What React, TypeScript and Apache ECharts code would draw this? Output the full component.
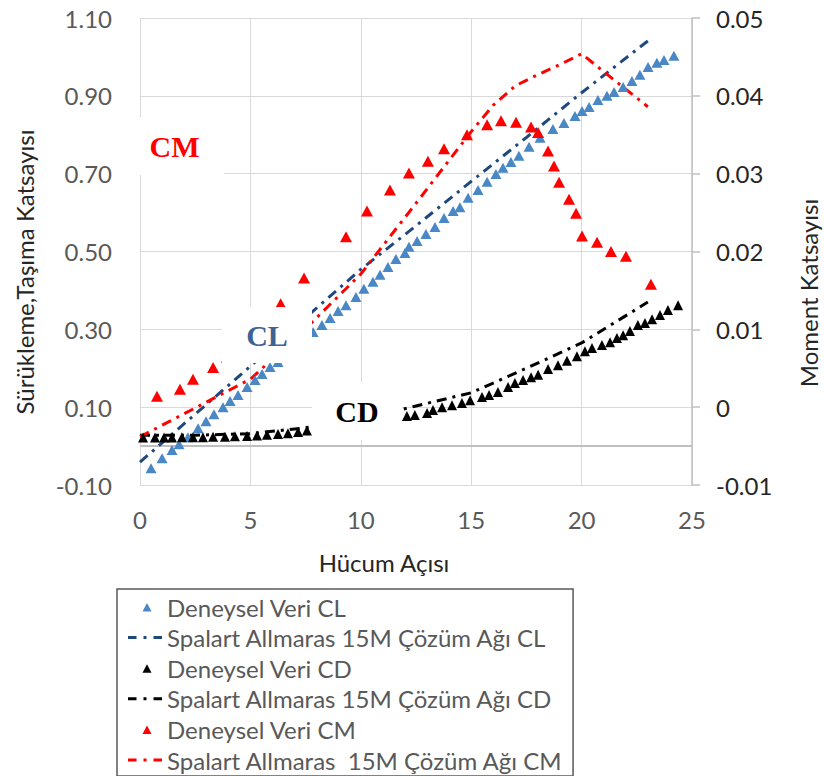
import React, { useEffect, useRef } from 'react';
import * as echarts from 'echarts';

const FONT = 'Lato';

// Hücum açısı (deg) vs katsayı
const clExp: [number, number][] = [
  [0.5, -0.057], [1.0, -0.031], [1.45, -0.01], [1.77, 0.005], [2.17, 0.023], [2.63, 0.046],
  [2.99, 0.064], [3.35, 0.082], [3.76, 0.1], [4.08, 0.116], [4.44, 0.131], [4.85, 0.152],
  [5.21, 0.17], [5.53, 0.185], [5.89, 0.203], [6.25, 0.216],
  [7.84, 0.293], [8.24, 0.311], [8.61, 0.329], [8.97, 0.347], [9.33, 0.362], [9.78, 0.383],
  [10.14, 0.404], [10.55, 0.422], [10.87, 0.44], [11.23, 0.46], [11.59, 0.481], [12.0, 0.496],
  [12.18, 0.512], [12.55, 0.527], [12.95, 0.545], [13.36, 0.563], [13.77, 0.586], [14.18, 0.604],
  [14.49, 0.614], [14.86, 0.638], [15.31, 0.658], [15.72, 0.679], [16.12, 0.699], [16.44, 0.715],
  [16.8, 0.73], [17.16, 0.746], [17.62, 0.769], [18.12, 0.792], [18.7, 0.815], [19.2, 0.83],
  [19.7, 0.848], [20.02, 0.861], [20.34, 0.871], [20.74, 0.889], [21.15, 0.9], [21.47, 0.91],
  [21.88, 0.923], [22.28, 0.938], [22.64, 0.954], [23.01, 0.974], [23.41, 0.985], [23.73, 0.992],
  [24.18, 1.003],
];

const clLine: [number, number][] = [
  [0, -0.041], [2.5, 0.082], [5, 0.205], [7.5, 0.33], [10, 0.454], [12.5, 0.566],
  [15, 0.68], [17.5, 0.793], [20, 0.908], [22.5, 1.019], [23, 1.041],
];

const cdExp: [number, number][] = [
  [0.14, 0.022], [0.68, 0.022], [1.09, 0.022], [1.45, 0.022], [1.9, 0.023], [2.4, 0.023],
  [2.85, 0.023], [3.31, 0.024], [3.85, 0.024], [4.3, 0.025], [4.85, 0.026], [5.3, 0.027],
  [5.75, 0.029], [6.25, 0.031], [6.7, 0.033], [7.16, 0.036], [7.56, 0.04],
  [12.09, 0.077], [12.45, 0.08], [13.0, 0.085], [13.27, 0.093], [13.68, 0.1], [14.13, 0.105],
  [14.58, 0.111], [14.95, 0.118], [15.49, 0.126], [15.81, 0.131], [16.21, 0.139], [16.67, 0.152],
  [16.98, 0.162], [17.35, 0.17], [17.71, 0.177], [18.03, 0.183], [18.48, 0.198], [18.93, 0.208],
  [19.34, 0.219], [19.79, 0.231], [20.15, 0.244], [20.47, 0.252], [20.92, 0.26], [21.29, 0.267],
  [21.6, 0.278], [21.88, 0.285], [22.19, 0.296], [22.55, 0.311], [22.87, 0.316], [23.19, 0.326],
  [23.55, 0.337], [23.91, 0.35], [24.37, 0.362],
];

const cdLine: [number, number][] = [
  [0, 0.028], [2.5, 0.028], [5, 0.032], [7.5, 0.047], [10, 0.068], [12.5, 0.103],
  [15, 0.137], [17.5, 0.2], [20, 0.265], [23, 0.37],
];

// Moment katsayısı (sağ eksen)
const cmExp: [number, number][] = [
  [0.77, 0.0014], [1.81, 0.0023], [2.4, 0.0036], [3.31, 0.0051], [3.94, 0.0064], [5.0, 0.0096],
  [6.37, 0.0133], [7.43, 0.0166], [9.33, 0.0219], [10.28, 0.0252], [11.32, 0.0279], [12.18, 0.0301],
  [13.04, 0.0316], [13.77, 0.0332], [14.81, 0.035], [15.72, 0.0363], [16.35, 0.0368], [17.03, 0.0366],
  [17.71, 0.036], [18.03, 0.0353], [18.48, 0.0329], [18.75, 0.031], [18.98, 0.0289], [19.43, 0.0267],
  [19.75, 0.0249], [20.02, 0.022], [20.7, 0.0212], [21.33, 0.02], [22.01, 0.0194], [23.14, 0.0158],
];

const cmLine: [number, number][] = [
  [0, -0.0038], [5, 0.0036], [7.5, 0.0101], [10, 0.0171], [12.5, 0.0262], [15, 0.0354],
  [16, 0.0388], [17, 0.0413], [18, 0.0427], [19, 0.044], [20, 0.0454], [21, 0.0431], [23, 0.0386],
];

const seriesNames = [
  'Deneysel Veri CL',
  'Spalart Allmaras 15M Çözüm Ağı CL',
  'Deneysel Veri CD',
  'Spalart Allmaras 15M Çözüm Ağı CD',
  'Deneysel Veri CM',
  'Spalart Allmaras  15M Çözüm Ağı CM',
];

const xAxisTitle = 'Hücum Açısı';
const leftAxisTitle = 'Sürükleme,Taşıma Katsayısı';
const rightAxisTitle = 'Moment Katsayısı';

const C_BLUE = '#4A87C5';
const C_DBLUE = '#1F497D';
const C_RED = '#FF0000';
const C_BLACK = '#000000';

const DASH = [10, 6, 3, 6];
const TRI_ICON = 'path://M0,0 M34,14 M14.5,11.5 L19,3 L23.5,11.5 Z';
const DASHDOT_ICON =
  'path://M0,0 M34,14 M0,5.5 L8.5,5.5 L8.5,8.5 L0,8.5 Z M15.5,5.5 L18.5,5.5 L18.5,8.5 L15.5,8.5 Z M25.5,5.5 L34,5.5 L34,8.5 L25.5,8.5 Z';

export default function App() {
  const ref = useRef<HTMLDivElement>(null);
  useEffect(() => {
    const chart = echarts.init(ref.current!, null, { renderer: 'svg' });
    const lineSeries = (name: string, data: [number, number][], color: string, yAxisIndex: number) => ({
      name,
      type: 'line',
      data,
      yAxisIndex,
      symbol: 'none',
      showSymbol: false,
      itemStyle: { color },
      lineStyle: { color, width: 3, type: DASH, cap: 'butt' },
      z: 3,
    });
    const scatterSeries = (name: string, data: [number, number][], color: string, yAxisIndex: number, size: number[]) => ({
      name,
      type: 'scatter',
      data,
      yAxisIndex,
      symbol: 'triangle',
      symbolSize: size,
      itemStyle: { color, opacity: 1 },
      z: 3,
    });
    const overlay = (x: number, y: number, w: number, h: number, text: string, color: string) => [
      { type: 'rect', shape: { x, y, width: w, height: h }, style: { fill: '#FFFFFF' }, z: 100 },
      {
        type: 'text',
        x: x + w / 2,
        y: y + h / 2,
        z: 101,
        style: {
          text,
          font: 'bold 30px "Liberation Serif"',
          fill: color,
          align: 'center',
          verticalAlign: 'middle',
          textAlign: 'center',
          textVerticalAlign: 'middle',
        },
      },
    ];
    const title = (x: number, y: number, text: string, rotation: number) => ({
      type: 'text',
      x,
      y,
      rotation,
      z: 50,
      style: {
        text,
        font: `24px ${FONT}`,
        fill: '#262626',
        align: 'center',
        verticalAlign: 'middle',
        textAlign: 'center',
        textVerticalAlign: 'middle',
      },
    });
    const lineLegendItem = (name: string, color: string) => ({
      name,
      icon: DASHDOT_ICON,
      itemStyle: { color, borderWidth: 0, borderColor: color },
    });

    const s0: any = scatterSeries(seriesNames[0], clExp, C_BLUE, 0, [11, 10]);
    s0.markLine = {
      silent: true,
      symbol: ['none', 'none'],
      label: { show: false },
      lineStyle: { color: '#BFBFBF', width: 2, type: 'solid' },
      data: [{ yAxis: 0 }],
      z: 1,
    };

    chart.setOption({
      animation: false,
      backgroundColor: '#FFFFFF',
      textStyle: { fontFamily: FONT },
      grid: { left: 140, right: 132, top: 18, bottom: 291, containLabel: false },
      xAxis: {
        type: 'value',
        min: 0,
        max: 25,
        interval: 5,
        axisLine: { show: false },
        axisTick: { show: false },
        splitLine: { show: true, lineStyle: { color: '#D9D9D9', width: 1 } },
        axisLabel: { margin: 22, fontSize: 24, fontFamily: FONT, color: '#595959' },
      },
      yAxis: [
        {
          type: 'value',
          min: -0.1,
          max: 1.1,
          interval: 0.1,
          position: 'left',
          axisLine: { show: false },
          axisTick: { show: false },
          splitLine: { show: false },
          axisLabel: {
            margin: 28,
            fontSize: 24,
            fontFamily: FONT,
            color: '#595959',
            formatter: (v: number) => (Math.round(v * 10) % 2 !== 0 ? v.toFixed(2) : ''),
          },
        },
        {
          type: 'value',
          min: -0.01,
          max: 0.05,
          interval: 0.01,
          position: 'right',
          axisLine: { show: true, lineStyle: { color: '#BFBFBF', width: 1.5 } },
          axisTick: { show: true, length: 8, lineStyle: { color: '#BFBFBF', width: 1.5 } },
          splitLine: { show: true, lineStyle: { color: '#D9D9D9', width: 1 } },
          axisLabel: {
            margin: 24,
            fontSize: 24,
            fontFamily: FONT,
            color: '#262626',
            formatter: (v: number) => (Math.abs(v) < 1e-9 ? '0' : v.toFixed(2)),
          },
        },
      ],
      legend: {
        orient: 'vertical',
        left: 117,
        top: 589,
        padding: [6, 10, 4, 11],
        itemGap: 6.6,
        itemWidth: 34,
        itemHeight: 14,
        borderColor: '#595959',
        borderWidth: 1.5,
        borderRadius: 0,
        backgroundColor: '#FFFFFF',
        selectedMode: false,
        textStyle: { fontFamily: FONT, fontSize: 24, color: '#595959', lineHeight: 24 },
        data: [
          { name: seriesNames[0], icon: TRI_ICON },
          lineLegendItem(seriesNames[1], C_DBLUE),
          { name: seriesNames[2], icon: TRI_ICON },
          lineLegendItem(seriesNames[3], C_BLACK),
          { name: seriesNames[4], icon: TRI_ICON },
          lineLegendItem(seriesNames[5], C_RED),
        ],
      },
      series: [
        s0,
        lineSeries(seriesNames[1], clLine, C_DBLUE, 0),
        scatterSeries(seriesNames[2], cdExp, C_BLACK, 0, [10, 10]),
        lineSeries(seriesNames[3], cdLine, C_BLACK, 0),
        scatterSeries(seriesNames[4], cmExp, C_RED, 1, [12, 11]),
        lineSeries(seriesNames[5], cmLine, C_RED, 1),
      ],
      graphic: [
        ...overlay(125, 117, 99, 58, 'CM', '#FF0000'),
        ...overlay(222, 307, 90, 56, 'CL', '#3E6294'),
        ...overlay(312, 382, 90, 58, 'CD', '#000000'),
        title(384, 562, xAxisTitle, 0),
        title(24, 272, leftAxisTitle, Math.PI / 2),
        title(808, 293, rightAxisTitle, Math.PI / 2),
      ],
    });
    return () => chart.dispose();
  }, []);
  return (
    <div
      ref={ref}
      style={{ position: 'absolute', left: 0, top: 0, width: 824, height: 776 }}
    />
  );
}
